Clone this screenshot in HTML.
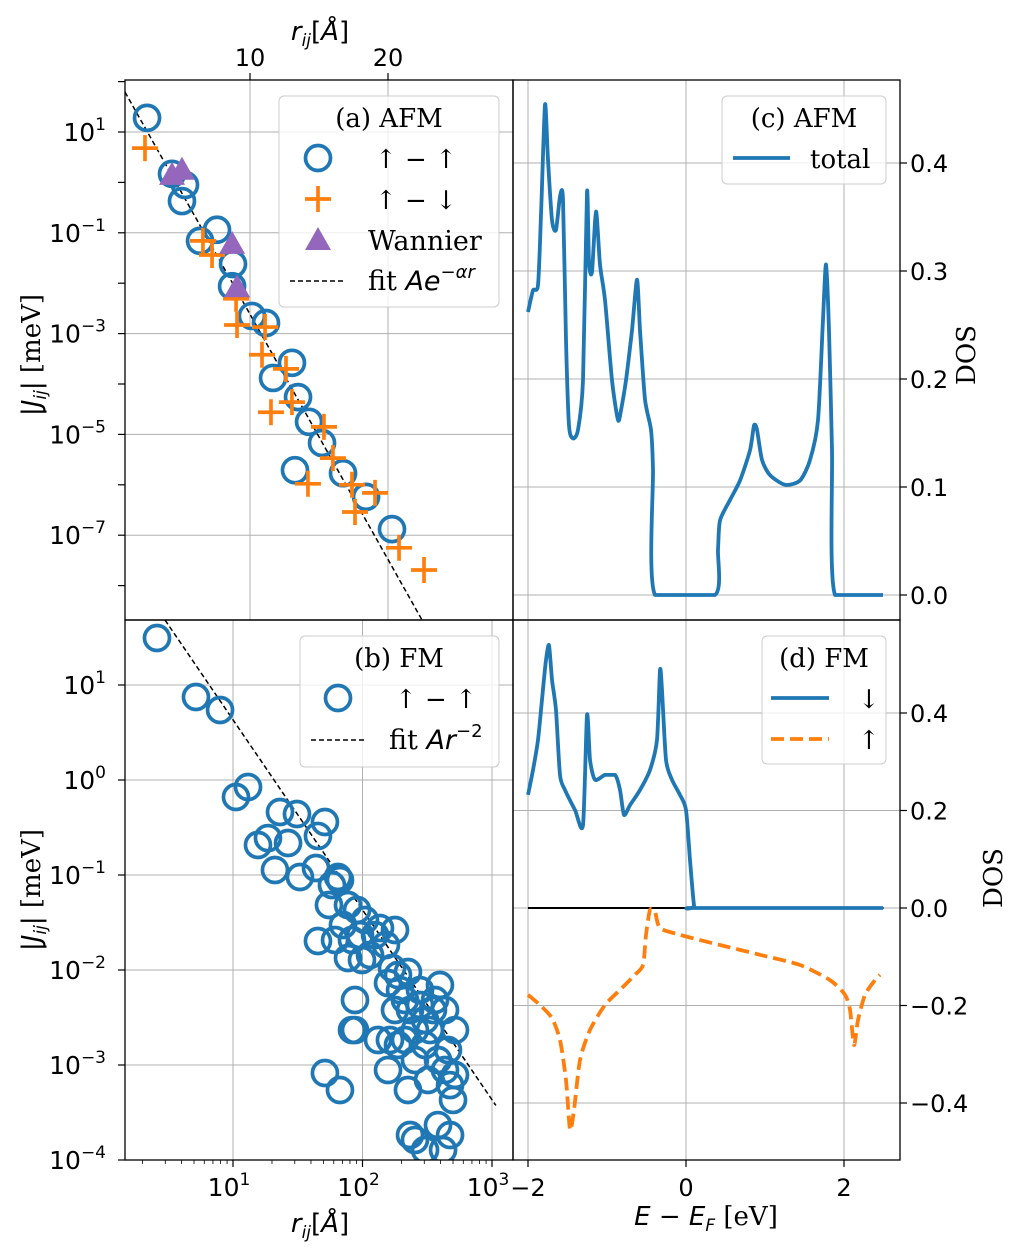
<!DOCTYPE html>
<html><head><meta charset="utf-8">
<style>
html,body{margin:0;padding:0;background:#fff;}
svg{display:block;}
text{font-family:"DejaVu Sans","Liberation Sans",sans-serif;fill:#000;}
.serif{font-family:"DejaVu Serif","Liberation Serif",serif;}
</style></head>
<body>
<svg id="fig" width="1020" height="1253" viewBox="0 0 1020 1253" xmlns="http://www.w3.org/2000/svg">
<defs>
<clipPath id="clipA"><rect x="125" y="80" width="388" height="540"/></clipPath>
<clipPath id="clipB"><rect x="125" y="620" width="388" height="540"/></clipPath>
<clipPath id="clipC"><rect x="513" y="80" width="387" height="540"/></clipPath>
<clipPath id="clipD"><rect x="513" y="620" width="387" height="540"/></clipPath>
</defs>
</svg>
<script>
// ---------- DATA ----------
const aCircR = [2.54,4.35,5.29,5.07,6.38,7.61,8.77,8.70,10.14,11.16,13.04,11.67,13.48,14.28,15.22,13.26,16.74,18.41,20.29];
const aCircLogJ = [1.28,0.17,-0.05,-0.37,-1.16,-0.94,-1.62,-2.06,-2.65,-2.79,-3.58,-3.88,-4.26,-4.75,-5.17,-5.71,-5.77,-6.24,-6.88];
const aPlusR = [2.39,6.59,7.25,8.99,9.06,11.09,10.87,12.61,11.52,13.04,15.36,16.01,14.20,17.39,17.61,19.06,20.80,22.61];
const aPlusLogJ = [0.68,-1.16,-1.44,-2.31,-2.83,-2.87,-3.42,-3.70,-4.56,-4.36,-4.85,-5.47,-5.98,-6.00,-6.54,-6.16,-7.25,-7.69];
const aTriR = [4.35,5.07,8.70,9.06];
const aTriLogJ = [0.15,0.25,-1.22,-2.08];
const aFitLogA = 2.25, aFitSlope = -0.4866;
const aFitRange = [0.94,22.5];
const bLogR = [0.413,0.714,0.900,1.023,1.116,1.193,1.270,1.324,1.363,1.425,1.494,1.517,1.641,1.656,1.710,1.741,1.764,1.811,1.826,1.656,1.849,1.788,1.888,1.919,1.958,1.981,2.019,1.996,1.942,1.888,1.942,2.058,2.097,2.135,2.181,2.228,2.251,2.197,2.274,2.290,2.328,2.120,2.197,2.251,2.351,2.367,2.405,2.444,2.483,2.521,2.560,2.598,2.637,2.660,2.676,2.699,2.714,2.583,2.506,2.405,2.328,2.274,2.483,2.367,2.405,2.483,2.583,2.622,2.676,1.710,1.826,1.919,2.637,2.714,2.544,2.444,2.351,2.212];
const bLogJ = [1.495,0.874,0.737,-0.179,-0.074,-0.684,-0.611,-0.947,-0.337,-0.663,-0.358,-1.021,-0.926,-0.589,-0.442,-1.316,-1.105,-1.021,-1.053,-1.695,-1.526,-1.684,-1.316,-1.684,-1.368,-1.632,-1.474,-1.895,-2.316,-1.874,-2.632,-1.842,-1.632,-1.558,-1.737,-1.979,-1.579,-2.137,-2.053,-2.211,-2.316,-2.737,-3.053,-2.421,-2.021,-2.421,-2.632,-2.211,-2.789,-2.632,-2.316,-2.158,-2.421,-2.842,-3.211,-3.368,-2.632,-2.947,-3.158,-2.947,-2.737,-2.789,-2.526,-3.737,-3.789,-3.895,-3.632,-3.895,-3.737,-3.084,-3.263,-2.632,-3.053,-3.105,-2.421,-2.368,-3.263,-2.737];
const bFitLogA = 2.634, bFitExp = -2;
const bFitRange = [0.475,3.03];
const cE = [-2.0,-1.937,-1.873,-1.835,-1.785,-1.747,-1.696,-1.646,-1.595,-1.557,-1.519,-1.481,-1.430,-1.367,-1.304,-1.253,-1.228,-1.190,-1.139,-1.089,-1.025,-0.937,-0.861,-0.823,-0.759,-0.684,-0.620,-0.582,-0.519,-0.443,-0.418,-0.392,0.367,0.405,0.430,0.557,0.684,0.810,0.861,0.899,0.962,1.063,1.253,1.443,1.570,1.671,1.734,1.772,1.810,1.848,1.886,2.494];
const cDOS = [0.262,0.282,0.287,0.352,0.454,0.403,0.347,0.338,0.369,0.366,0.236,0.157,0.145,0.153,0.199,0.373,0.308,0.299,0.355,0.306,0.273,0.199,0.162,0.171,0.199,0.245,0.292,0.245,0.181,0.153,0.116,0,0,0.042,0.069,0.088,0.106,0.134,0.157,0.153,0.125,0.111,0.102,0.106,0.125,0.162,0.255,0.306,0.245,0.134,0,0];
const dDownE = [-2.0,-1.937,-1.873,-1.823,-1.772,-1.734,-1.696,-1.646,-1.595,-1.532,-1.405,-1.304,-1.253,-1.215,-1.152,-1.025,-0.899,-0.835,-0.785,-0.709,-0.582,-0.456,-0.367,-0.329,-0.304,-0.253,-0.177,-0.076,0,0.051,0.101,0.139,2.494];
const dDownDOS = [0.232,0.283,0.345,0.427,0.509,0.539,0.468,0.406,0.273,0.242,0.201,0.170,0.396,0.304,0.263,0.273,0.273,0.242,0.191,0.211,0.242,0.283,0.345,0.488,0.447,0.304,0.263,0.232,0.201,0.098,0.006,0,0];
const dUpE = [-2.0,-1.848,-1.696,-1.595,-1.519,-1.468,-1.418,-1.342,-1.215,-1.025,-0.835,-0.646,-0.544,-0.506,-0.456,-0.392,-0.329,-0.076,0.430,0.937,1.443,1.823,2.013,2.076,2.127,2.177,2.266,2.392,2.456];
const dUpDOS = [-0.178,-0.199,-0.226,-0.271,-0.353,-0.455,-0.414,-0.312,-0.250,-0.199,-0.168,-0.137,-0.117,-0.055,-0.004,-0.008,-0.041,-0.055,-0.076,-0.096,-0.117,-0.148,-0.178,-0.209,-0.281,-0.230,-0.178,-0.148,-0.137];
const aYTicks = [1,-1,-3,-5,-7];
const aTopTicks = [10,20];
const bYTicks = [1,0,-1,-2,-3,-4];
const bXTicks = [1,2,3];
const cYTicks = [0.0,0.1,0.2,0.3,0.4];
const dYTicks = [-0.4,-0.2,0.0,0.2,0.4];
const eTicks = [-2,0,2];

const ax = {
  aX: r => 250 + (r-10)*13.8,
  aY: l => 132 - (l-1)*50.4,
  bX: l => 233 + (l-1)*129.5,
  bY: l => 685 - (l-1)*95,
  cX: e => 686 + e*79,
  cY: v => 595 - v*1080,
  dY: v => 908 - v*487.5
};
const NS='http://www.w3.org/2000/svg';
const svg=document.getElementById('fig');
function mk(tag,attrs,parent){const e=document.createElementNS(NS,tag);for(const k in attrs)e.setAttribute(k,attrs[k]);(parent||svg).appendChild(e);return e;}
function grp(name,clip){const g=mk('g',clip?{'clip-path':'url(#'+clip+')'}:{});


return g;}
const GRID='#b0b0b0';
function sup(parent,x,y,base,exp,anchor){
  const t=mk('text',{x:x,y:y,'font-size':'25','text-anchor':anchor||'end'},parent);
  t.appendChild(document.createTextNode(base));
  const s=mk('tspan',{dy:'-11','font-size':'17'},t);s.textContent=exp;
  return t;
}
const fmtMinus=s=>s.replace('-','\u2212');
function smooth(xs,ys,fx,fy){
  const P=xs.map((x,i)=>[fx(x),fy(ys[i])]);
  let d='M'+P[0][0].toFixed(1)+','+P[0][1].toFixed(1);
  const t=0.12;
  for(let i=0;i<P.length-1;i++){
    const p0=P[Math.max(0,i-1)],p1=P[i],p2=P[i+1],p3=P[Math.min(P.length-1,i+2)];
    if(Math.abs(p1[1]-p2[1])<0.01){d+=`L${p2[0].toFixed(1)},${p2[1].toFixed(1)}`;continue;}
    const c1=[p1[0]+(p2[0]-p0[0])*t,p1[1]+(p2[1]-p0[1])*t];
    const c2=[p2[0]-(p3[0]-p1[0])*t,p2[1]-(p3[1]-p1[1])*t];
    d+=`C${c1[0].toFixed(1)},${c1[1].toFixed(1)} ${c2[0].toFixed(1)},${c2[1].toFixed(1)} ${p2[0].toFixed(1)},${p2[1].toFixed(1)}`;
  }
  return d;
}

// ---- Panel A ----
const gA=grp('panel-a-grid','clipA');
aYTicks.forEach(l=>{mk('line',{x1:125,x2:513,y1:ax.aY(l),y2:ax.aY(l),stroke:GRID,'stroke-width':1},gA);});
aTopTicks.forEach(r=>{mk('line',{x1:ax.aX(r),x2:ax.aX(r),y1:80,y2:620,stroke:GRID,'stroke-width':1},gA);});
const gAt=grp('panel-a-ticks');
for(let l=-8;l<=2;l++){const y=ax.aY(l);if(y<80||y>620)continue;mk('line',{x1:118,x2:125,y1:y,y2:y,stroke:'#000','stroke-width':1.2},gAt);}
aYTicks.forEach(l=>{const t=sup(gAt,106,ax.aY(l)+9,'10',fmtMinus(String(l)));

});
aTopTicks.forEach(r=>{mk('line',{x1:ax.aX(r),x2:ax.aX(r),y1:73,y2:80,stroke:'#000','stroke-width':1.2},gAt);
const t=mk('text',{x:ax.aX(r),y:66,'font-size':'24','text-anchor':'middle'},gAt);t.textContent=r;

});
const gAd=grp('panel-a-data','clipA');
const fitA=mk('line',{x1:ax.aX(aFitRange[0]),y1:ax.aY(aFitLogA+aFitSlope*aFitRange[0]),x2:ax.aX(aFitRange[1]),y2:ax.aY(aFitLogA+aFitSlope*aFitRange[1]),stroke:'#000','stroke-width':1.5,'stroke-dasharray':'5,3'},gAd);


function circle(g,x,y){return mk('circle',{cx:x,cy:y,r:12.5,fill:'none',stroke:'#1f77b4','stroke-width':3.7},g);}
function plus(g,x,y){return mk('path',{d:`M${x-13},${y}H${x+13}M${x},${y-13}V${y+13}`,stroke:'#ff7f0e','stroke-width':3.7,fill:'none'},g);}
function tri(g,x,y){return mk('path',{d:`M${x},${y-13}L${x+13},${y+10}L${x-13},${y+10}Z`,fill:'#9467bd'},g);}
aCircR.forEach((r,i)=>{const c=circle(gAd,ax.aX(r),ax.aY(aCircLogJ[i]));

});
aPlusR.forEach((r,i)=>{const p=plus(gAd,ax.aX(r),ax.aY(aPlusLogJ[i]));

});
aTriR.forEach((r,i)=>{const p=tri(gAd,ax.aX(r),ax.aY(aTriLogJ[i]));

});

// ---- Panel B ----
const gB=grp('panel-b-grid','clipB');
bYTicks.forEach(l=>{mk('line',{x1:125,x2:513,y1:ax.bY(l),y2:ax.bY(l),stroke:GRID,'stroke-width':1},gB);});
bXTicks.forEach(l=>{mk('line',{x1:ax.bX(l),x2:ax.bX(l),y1:620,y2:1160,stroke:GRID,'stroke-width':1},gB);});
const gBt=grp('panel-b-ticks');
bYTicks.forEach(l=>{mk('line',{x1:118,x2:125,y1:ax.bY(l),y2:ax.bY(l),stroke:'#000','stroke-width':1.2},gBt);
const t=sup(gBt,106,ax.bY(l)+9,'10',fmtMinus(String(l)));

});
for(let d=0;d<=3;d++){for(let m=1;m<=9;m++){const x=ax.bX(d+Math.log10(m));if(x<125||x>513)continue;
mk('line',{x1:x,x2:x,y1:1160,y2:m===1?1167:1164,stroke:'#000','stroke-width':m===1?1.2:0.8},gBt);}}
bXTicks.forEach(l=>{const t=sup(gBt,ax.bX(l)-4,1196,'10',String(l),'middle');

});
const gBd=grp('panel-b-data','clipB');
const fitB=mk('line',{x1:ax.bX(bFitRange[0]),y1:ax.bY(bFitLogA+bFitExp*bFitRange[0]),x2:ax.bX(bFitRange[1]),y2:ax.bY(bFitLogA+bFitExp*bFitRange[1]),stroke:'#000','stroke-width':1.5,'stroke-dasharray':'5,3'},gBd);


bLogR.forEach((l,i)=>{const c=circle(gBd,ax.bX(l),ax.bY(bLogJ[i]));

});

// ---- Panel C ----
const gC=grp('panel-c-grid','clipC');
cYTicks.forEach(v=>{mk('line',{x1:513,x2:900,y1:ax.cY(v),y2:ax.cY(v),stroke:GRID,'stroke-width':1},gC);});
eTicks.forEach(e=>{mk('line',{x1:ax.cX(e),x2:ax.cX(e),y1:80,y2:620,stroke:GRID,'stroke-width':1},gC);});
const gCt=grp('panel-c-ticks');
cYTicks.forEach(v=>{mk('line',{x1:900,x2:907,y1:ax.cY(v),y2:ax.cY(v),stroke:'#000','stroke-width':1.2},gCt);
const t=mk('text',{x:910,y:ax.cY(v)+9,'font-size':'24'},gCt);t.textContent=fmtMinus(v.toFixed(1));

});
const gCd=grp('panel-c-data','clipC');
const cl=mk('path',{d:smooth(cE,cDOS,ax.cX,ax.cY),fill:'none',stroke:'#1f77b4','stroke-width':3.8,'stroke-linejoin':'round'},gCd);



// ---- Panel D ----
const gD=grp('panel-d-grid','clipD');
dYTicks.forEach(v=>{mk('line',{x1:513,x2:900,y1:ax.dY(v),y2:ax.dY(v),stroke:GRID,'stroke-width':1},gD);});
eTicks.forEach(e=>{mk('line',{x1:ax.cX(e),x2:ax.cX(e),y1:620,y2:1160,stroke:GRID,'stroke-width':1},gD);});
const gDt=grp('panel-d-ticks');
dYTicks.forEach(v=>{mk('line',{x1:900,x2:907,y1:ax.dY(v),y2:ax.dY(v),stroke:'#000','stroke-width':1.2},gDt);
const t=mk('text',{x:910,y:ax.dY(v)+9,'font-size':'24'},gDt);t.textContent=fmtMinus(v.toFixed(1));

});
eTicks.forEach(e=>{mk('line',{x1:ax.cX(e),x2:ax.cX(e),y1:1160,y2:1167,stroke:'#000','stroke-width':1.2},gDt);
const t=mk('text',{x:ax.cX(e),y:1196,'font-size':'24','text-anchor':'middle'},gDt);t.textContent=fmtMinus(String(e));

});
const gDd=grp('panel-d-data','clipD');
const zl=mk('line',{x1:ax.cX(-2),x2:ax.cX(2.5),y1:ax.dY(0),y2:ax.dY(0),stroke:'#000','stroke-width':2},gDd);


const du=mk('path',{d:smooth(dUpE,dUpDOS,ax.cX,ax.dY),fill:'none',stroke:'#ff7f0e','stroke-width':3.8,'stroke-dasharray':'13,6','stroke-linejoin':'round'},gDd);


const dd=mk('path',{d:smooth(dDownE,dDownDOS,ax.cX,ax.dY),fill:'none',stroke:'#1f77b4','stroke-width':3.8,'stroke-linejoin':'round'},gDd);


</script>
<svg width="1020" height="1253" viewBox="0 0 1020 1253" style="position:absolute;left:0;top:0" xmlns="http://www.w3.org/2000/svg">
  <g fill="none" stroke="#000" stroke-width="1.3">
    <rect x="125" y="80" width="388" height="540"/>
    <rect x="125" y="620" width="388" height="540"/>
    <rect x="513" y="80" width="387" height="540"/>
    <rect x="513" y="620" width="387" height="540"/>
  </g>
  <g>
    <rect x="279" y="96" width="220" height="211" rx="5" fill="#fff" fill-opacity="0.8" stroke="#ccc"/>
    <text class="serif" x="389" y="127" font-size="26" text-anchor="middle">(a) AFM</text>
    <circle cx="318" cy="158" r="12.5" fill="none" stroke="#1f77b4" stroke-width="3.7"/>
    <text class="serif" x="375" y="168" font-size="26">↑ − ↑</text>
    <path d="M305,199H331M318,186V212" stroke="#ff7f0e" stroke-width="3.7"/>
    <text class="serif" x="375" y="209" font-size="26">↑ − ↓</text>
    <path d="M318,227L331,250L305,250Z" fill="#9467bd"/>
    <text class="serif" x="368" y="250" font-size="27">Wannier</text>
    <line x1="290" x2="346" y1="281" y2="281" stroke="#000" stroke-width="1.5" stroke-dasharray="5,3"/>
    <text class="serif" x="368" y="290" font-size="27">fit <tspan font-style="italic" font-family="DejaVu Sans">Ae</tspan><tspan dy="-12" font-size="18" font-style="italic" font-family="DejaVu Sans">−αr</tspan></text>
  </g>
  <g>
    <rect x="300" y="636" width="199" height="131" rx="5" fill="#fff" fill-opacity="0.8" stroke="#ccc"/>
    <text class="serif" x="399" y="667" font-size="26" text-anchor="middle">(b) FM</text>
    <circle cx="338" cy="698" r="12.5" fill="none" stroke="#1f77b4" stroke-width="3.7"/>
    <text class="serif" x="395" y="708" font-size="26">↑ − ↑</text>
    <line x1="311" x2="367" y1="740" y2="740" stroke="#000" stroke-width="1.5" stroke-dasharray="5,3"/>
    <text class="serif" x="389" y="749" font-size="27">fit <tspan font-style="italic" font-family="DejaVu Sans">Ar</tspan><tspan dy="-12" font-size="18" font-family="DejaVu Sans">−2</tspan></text>
  </g>
  <g>
    <rect x="722" y="96" width="164" height="88" rx="5" fill="#fff" fill-opacity="0.8" stroke="#ccc"/>
    <text class="serif" x="804" y="127" font-size="26" text-anchor="middle">(c) AFM</text>
    <line x1="733" x2="790" y1="158" y2="158" stroke="#1f77b4" stroke-width="3.8"/>
    <text class="serif" x="810" y="168" font-size="26">total</text>
  </g>
  <g>
    <rect x="762" y="636" width="124" height="128" rx="5" fill="#fff" fill-opacity="0.8" stroke="#ccc"/>
    <text class="serif" x="824" y="667" font-size="26" text-anchor="middle">(d) FM</text>
    <line x1="771" x2="829" y1="698" y2="698" stroke="#1f77b4" stroke-width="3.8"/>
    <text class="serif" x="858" y="708" font-size="26">↓</text>
    <line x1="771" x2="829" y1="739" y2="739" stroke="#ff7f0e" stroke-width="3.8" stroke-dasharray="13,6"/>
    <text class="serif" x="858" y="749" font-size="26">↑</text>
  </g>
  <text x="320" y="40" font-size="26" text-anchor="middle"><tspan font-style="italic">r</tspan><tspan font-size="17" dy="6" font-style="italic">ij</tspan><tspan dy="-6">[</tspan><tspan font-style="italic">Å</tspan>]</text>
  <text x="320" y="1232" font-size="26" text-anchor="middle"><tspan font-style="italic">r</tspan><tspan font-size="17" dy="6" font-style="italic">ij</tspan><tspan dy="-6">[</tspan><tspan font-style="italic">Å</tspan>]</text>
  <text x="706" y="1225" font-size="26" text-anchor="middle"><tspan font-style="italic">E</tspan> − <tspan font-style="italic">E</tspan><tspan font-size="17" dy="6" font-style="italic">F</tspan><tspan dy="-6" font-family="DejaVu Serif"> [eV]</tspan></text>
  <text transform="translate(40,355) rotate(-90)" font-size="26" text-anchor="middle">|<tspan font-style="italic">J</tspan><tspan font-size="17" dy="6" font-style="italic">ij</tspan><tspan dy="-6">|</tspan><tspan font-family="DejaVu Serif"> [meV]</tspan></text>
  <text transform="translate(40,890) rotate(-90)" font-size="26" text-anchor="middle">|<tspan font-style="italic">J</tspan><tspan font-size="17" dy="6" font-style="italic">ij</tspan><tspan dy="-6">|</tspan><tspan font-family="DejaVu Serif"> [meV]</tspan></text>
  <text class="serif" transform="translate(975,355) rotate(-90)" font-size="26" text-anchor="middle">DOS</text>
  <text class="serif" transform="translate(1002,878) rotate(-90)" font-size="26" text-anchor="middle">DOS</text>
</svg>
</body></html>
